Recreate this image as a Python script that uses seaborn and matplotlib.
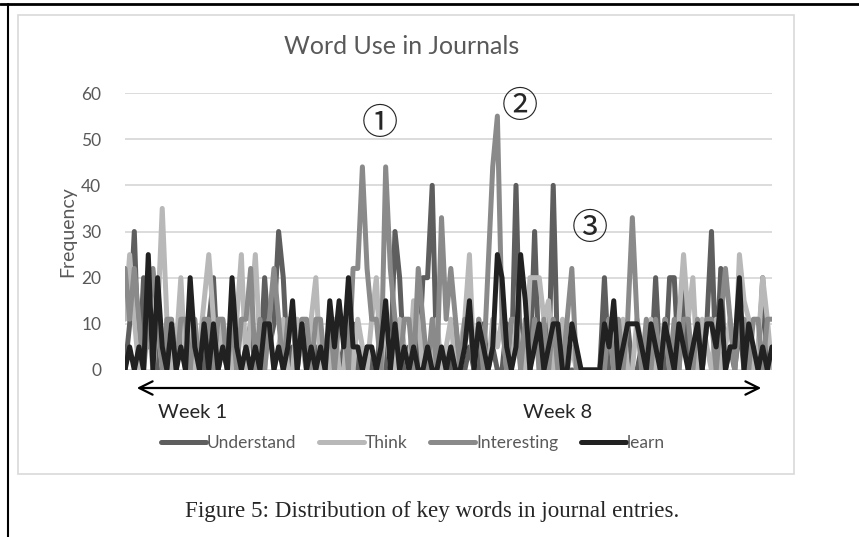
import numpy as np
import pandas as pd
import matplotlib
matplotlib.use("Agg")
import matplotlib.pyplot as plt
from matplotlib.lines import Line2D
from matplotlib.patches import Rectangle
import seaborn as sns

# ================== DATA ==================

understand = [0, 10, 30, 0, 20, 5, 10, 0, 0, 5,
              0, 0, 10, 0, 0, 5, 0, 0, 10, 20,
              0, 5, 0, 10, 0, 0, 5, 10, 0, 0,
              20, 5, 10, 30, 20, 0, 5, 0, 10, 0,
              0, 5, 0, 0, 10, 0, 0, 5, 0, 10,
              0, 0, 5, 0, 0, 10, 0, 0, 30, 20,
              0, 5, 0, 0, 20, 20, 40, 0, 0, 5,
              0, 10, 0, 0, 5, 0, 0, 10, 0, 5,
              0, 0, 10, 0, 40, 0, 5, 0, 30, 0,
              10, 0, 40, 0, 5, 0, 0, 0, 0, 0,
              0, 0, 0, 20, 0, 5, 0, 0, 10, 0,
              0, 5, 0, 0, 20, 0, 0, 20, 20, 0,
              20, 0, 5, 0, 0, 10, 30, 0, 22, 0,
              5, 0, 10, 0, 0, 5, 0, 20, 0, 5]

think = [11, 25, 11, 0, 5, 11, 0, 11, 35, 11,
         0, 5, 20, 0, 11, 0, 5, 15, 25, 11,
         0, 11, 5, 0, 11, 25, 0, 11, 25, 5,
         0, 11, 0, 5, 11, 0, 0, 11, 5, 0,
         11, 20, 0, 5, 0, 11, 0, 0, 11, 0,
         11, 5, 0, 11, 20, 0, 11, 5, 0, 11,
         5, 0, 15, 11, 0, 5, 0, 11, 0, 5,
         11, 0, 5, 11, 25, 0, 11, 5, 0, 11,
         5, 11, 0, 0, 11, 5, 0, 20, 20, 20,
         11, 15, 0, 5, 11, 0, 5, 0, 0, 0,
         0, 0, 0, 5, 11, 0, 5, 11, 0, 0,
         11, 5, 0, 11, 0, 5, 11, 0, 0, 11,
         25, 11, 20, 0, 11, 5, 0, 11, 0, 5,
         11, 0, 25, 15, 11, 0, 5, 20, 11, 0]

interesting = [22, 11, 22, 11, 0, 11, 22, 11, 0, 11,
               11, 0, 11, 11, 0, 11, 0, 11, 11, 0,
               11, 11, 0, 11, 0, 11, 11, 22, 0, 11,
               0, 11, 22, 11, 0, 11, 11, 0, 11, 11,
               0, 11, 11, 0, 11, 0, 11, 11, 0, 22,
               22, 44, 22, 11, 11, 0, 44, 22, 11, 0,
               11, 11, 0, 22, 11, 0, 11, 0, 33, 11,
               22, 11, 0, 11, 11, 0, 11, 0, 22, 44,
               55, 11, 0, 11, 11, 0, 11, 0, 11, 0,
               11, 0, 11, 0, 0, 11, 22, 0, 0, 0,
               0, 0, 0, 0, 11, 0, 11, 0, 11, 33,
               11, 0, 11, 0, 11, 0, 11, 0, 11, 0,
               11, 11, 0, 11, 0, 11, 11, 0, 11, 22,
               11, 0, 11, 11, 0, 11, 11, 0, 11, 11]

learn = [0, 5, 0, 5, 0, 25, 0, 20, 5, 0,
         10, 0, 5, 0, 20, 5, 0, 10, 0, 10,
         0, 5, 0, 20, 5, 0, 5, 0, 5, 0,
         10, 10, 0, 5, 0, 5, 15, 0, 10, 0,
         5, 0, 5, 0, 15, 5, 15, 5, 20, 5,
         5, 0, 5, 5, 0, 5, 15, 0, 10, 0,
         5, 0, 5, 0, 0, 5, 0, 0, 5, 0,
         5, 0, 0, 5, 15, 0, 10, 5, 0, 5,
         25, 20, 5, 0, 5, 25, 15, 0, 5, 10,
         0, 5, 10, 10, 0, 0, 10, 5, 0, 0,
         0, 0, 0, 10, 5, 15, 0, 5, 10, 10,
         10, 5, 0, 10, 5, 0, 10, 5, 0, 10,
         5, 0, 5, 10, 0, 10, 10, 5, 15, 0,
         5, 5, 20, 0, 10, 5, 0, 5, 0, 5]

words = ["Understand", "Think", "Interesting", "learn"]
colors = ["#5e5e5e", "#b8b8b8", "#8a8a8a", "#212121"]
yticks = [0, 10, 20, 30, 40, 50, 60]

df = pd.DataFrame({"Understand": understand, "Think": think,
                   "Interesting": interesting, "learn": learn})
df["entry"] = np.arange(len(df))
long_df = df.melt(id_vars="entry", var_name="word", value_name="freq")

# ================== PLOT ==================

sns.set_style("white")
plt.rcParams['font.family'] = ['Lato', 'DejaVu Sans']

W, H = 859, 537
fig = plt.figure(figsize=(W / 100, H / 100), dpi=100)
ax = fig.add_axes([125 / W, 1 - 370 / H, (772 - 125) / W, (370 - 93) / H])

sns.lineplot(data=long_df, x="entry", y="freq", hue="word", hue_order=words,
             palette=colors, linewidth=3.6, ax=ax, legend=False,
             solid_joinstyle="round", solid_capstyle="round")

ax.set_xlim(0, len(df) - 1)
ax.set_ylim(0, 60)
ax.set_yticks(yticks)
ax.set_xticks([])
ax.set_xlabel("")
ax.set_ylabel("")
ax.tick_params(axis="y", colors="#595959", labelsize=12.5, length=0, pad=17)
ax.grid(axis="y", color="#d9d9d9", linewidth=1.3)
ax.set_axisbelow(True)
for s in ax.spines.values():
    s.set_visible(False)

fig.text(68 / W, 1 - 232 / H, "Frequency", rotation=90, ha="center", va="center",
         fontsize=14, color="#595959")
fig.text(402 / W, 1 - 47 / H, "Word Use in Journals", ha="center", va="center",
         fontsize=18, color="#595959")

# arrow + week labels
ax.annotate("", xy=(134 / W, 1 - 388 / H), xytext=(764 / W, 1 - 388 / H),
            xycoords="figure fraction", textcoords="figure fraction",
            arrowprops=dict(arrowstyle="<->", color="black", lw=1.6,
                            mutation_scale=24))
fig.text(158 / W, 1 - 412 / H, "Week 1", ha="left", va="center", fontsize=14.5)
fig.text(523 / W, 1 - 412 / H, "Week 8", ha="left", va="center", fontsize=14.5)

# circled markers
circ_font = ['Noto Sans CJK SC', 'DejaVu Sans']
for label, (px, py) in zip(["①", "②", "③"], [(380, 124), (520, 107), (590, 229)]):
    fig.text(px / W, 1 - py / H, label, ha="center", va="center",
             fontsize=26, family=circ_font)

# legend
handles = [Line2D([], [], color=c, lw=3.6, solid_capstyle="round") for c in colors]
leg = fig.legend(handles, words, loc="center", ncol=4, frameon=False,
                 bbox_to_anchor=(413 / W, 1 - 443 / H), fontsize=12.5,
                 handlelength=2.6, handletextpad=0.05, columnspacing=1.3)
for t in leg.get_texts():
    t.set_color("#595959")

# chart frame and page lines
fig.add_artist(Rectangle((18 / W, 1 - 474 / H), (794 - 18) / W, (474 - 15) / H,
                         transform=fig.transFigure, fill=False,
                         edgecolor="#d9d9d9", linewidth=1.2))
fig.add_artist(Line2D([0, 1], [1 - 4 / H, 1 - 4 / H], transform=fig.transFigure,
                      color="black", linewidth=2))
fig.add_artist(Line2D([8 / W, 8 / W], [0, 1 - 4 / H], transform=fig.transFigure,
                      color="black", linewidth=1.5))

fig.text(432 / W, 1 - 512 / H, "Figure 5: Distribution of key words in journal entries.",
         ha="center", va="center", fontsize=16.6, family="Liberation Serif")

plt.savefig("out.png", dpi=100)
